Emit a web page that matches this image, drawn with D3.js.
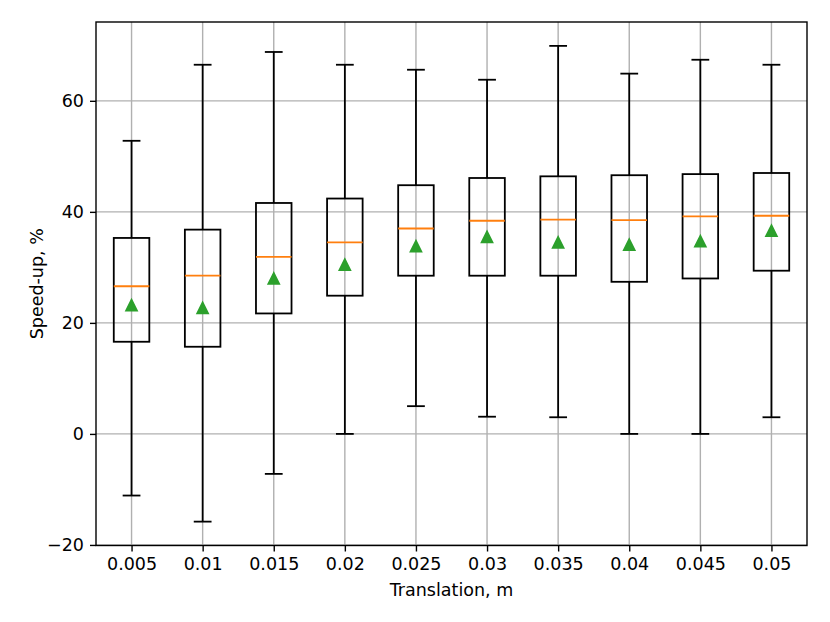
<!DOCTYPE html>
<html><head><meta charset="utf-8">
<script src="https://cdn.jsdelivr.net/npm/d3@7"></script>
<style>body{margin:0;background:#fff;} text{font-family:"DejaVu Sans",sans-serif;}</style>
</head><body>
<svg id="chart" width="830" height="622"></svg>
<script>
const categories = ["0.005","0.01","0.015","0.02","0.025","0.03","0.035","0.04","0.045","0.05"];
const whiskerLow  = [-11.1,-15.8,-7.2, 0.0, 5.0, 3.1, 3.0, 0.0, 0.0, 3.0];
const q1          = [16.6, 15.7, 21.7, 24.9, 28.5, 28.5, 28.5, 27.4, 28.0, 29.4];
const medians     = [26.6, 28.5, 31.9, 34.5, 37.0, 38.4, 38.6, 38.5, 39.2, 39.3];
const q3          = [35.3, 36.8, 41.6, 42.4, 44.8, 46.1, 46.4, 46.6, 46.8, 47.0];
const whiskerHigh = [52.8, 66.5, 68.8, 66.5, 65.6, 63.8, 69.9, 64.9, 67.4, 66.5];
const means       = [23.2, 22.7, 28.0, 30.5, 33.8, 35.5, 34.5, 34.1, 34.7, 36.6];
const yTicks = [-20, 0, 20, 40, 60];

const svg = d3.select("#chart");
const L = 96, R = 807, T = 22, B = 545.5;
const FS = "17.5px";
const x = d3.scaleLinear().domain([0.5, 10.5]).range([L, R]);
const y = d3.scaleLinear().domain([-20.1, 74.2]).range([B, T]);
const data = categories.map((c,i)=>({c, pos:i+1, lo:whiskerLow[i], q1:q1[i], med:medians[i], q3:q3[i], hi:whiskerHigh[i], mean:means[i]}));

// grid
const g = svg.append("g");
g.selectAll("line.gx").data(data).join("line")
  .attr("x1", d=>x(d.pos)).attr("x2", d=>x(d.pos)).attr("y1", T).attr("y2", B)
  .attr("stroke", "#b0b0b0").attr("stroke-width", 1.4);
g.selectAll("line.gy").data(yTicks).join("line")
  .attr("x1", L).attr("x2", R).attr("y1", d=>y(d)).attr("y2", d=>y(d))
  .attr("stroke", "#b0b0b0").attr("stroke-width", 1.4);

const bw = x(1.25) - x(1);  // half box width
const cw = x(1.125) - x(1); // half cap width
const boxes = svg.append("g");
data.forEach(d=>{
  const cx = x(d.pos);
  const s = boxes.append("g").attr("stroke","#000").attr("stroke-width",1.8).attr("fill","none");
  s.append("rect").attr("x", cx-bw).attr("width", 2*bw).attr("y", y(d.q3)).attr("height", y(d.q1)-y(d.q3));
  s.append("line").attr("x1",cx).attr("x2",cx).attr("y1",y(d.q3)).attr("y2",y(d.hi));
  s.append("line").attr("x1",cx).attr("x2",cx).attr("y1",y(d.q1)).attr("y2",y(d.lo));
  s.append("line").attr("x1",cx-cw).attr("x2",cx+cw).attr("y1",y(d.hi)).attr("y2",y(d.hi));
  s.append("line").attr("x1",cx-cw).attr("x2",cx+cw).attr("y1",y(d.lo)).attr("y2",y(d.lo));
  boxes.append("line").attr("x1",cx-bw).attr("x2",cx+bw).attr("y1",y(d.med)).attr("y2",y(d.med))
    .attr("stroke","#ff7f0e").attr("stroke-width",1.8);
  const h = 5.4, my = y(d.mean);
  boxes.append("path").attr("d", `M${cx},${my-h}L${cx-h},${my+h}L${cx+h},${my+h}Z`)
    .attr("fill","#2ca02c").attr("stroke","#2ca02c").attr("stroke-width",1.8).attr("stroke-linejoin","miter");
});

// axes frame
svg.append("rect").attr("x",L).attr("y",T).attr("width",R-L).attr("height",B-T)
  .attr("fill","none").attr("stroke","#000").attr("stroke-width",1.4);

const xAxis = d3.axisBottom(x).tickValues(data.map(d=>d.pos)).tickFormat((d,i)=>categories[i]).tickSize(6).tickPadding(6);
const gx = svg.append("g").attr("transform",`translate(0,${B})`).call(xAxis);
const yAxis = d3.axisLeft(y).tickValues(yTicks).tickFormat(d=> d<0 ? "\u2212"+Math.abs(d) : d).tickSize(6).tickPadding(6);
const gy = svg.append("g").attr("transform",`translate(${L},0)`).call(yAxis);
[gx,gy].forEach(a=>{
  a.select(".domain").remove();
  a.selectAll(".tick line").attr("stroke","#000").attr("stroke-width",1.4);
  a.selectAll(".tick text").attr("fill","#000").style("font-size",FS).style("font-family","DejaVu Sans");
});

svg.append("text").attr("x", (L+R)/2).attr("y", 596).attr("text-anchor","middle")
  .style("font-size",FS).text("Translation, m");
svg.append("text").attr("transform", `translate(37,${(T+B)/2}) rotate(-90)`).attr("text-anchor","middle")
  .attr("dy","0.35em").style("font-size",FS).text("Speed-up, %");
</script>
</body></html>
